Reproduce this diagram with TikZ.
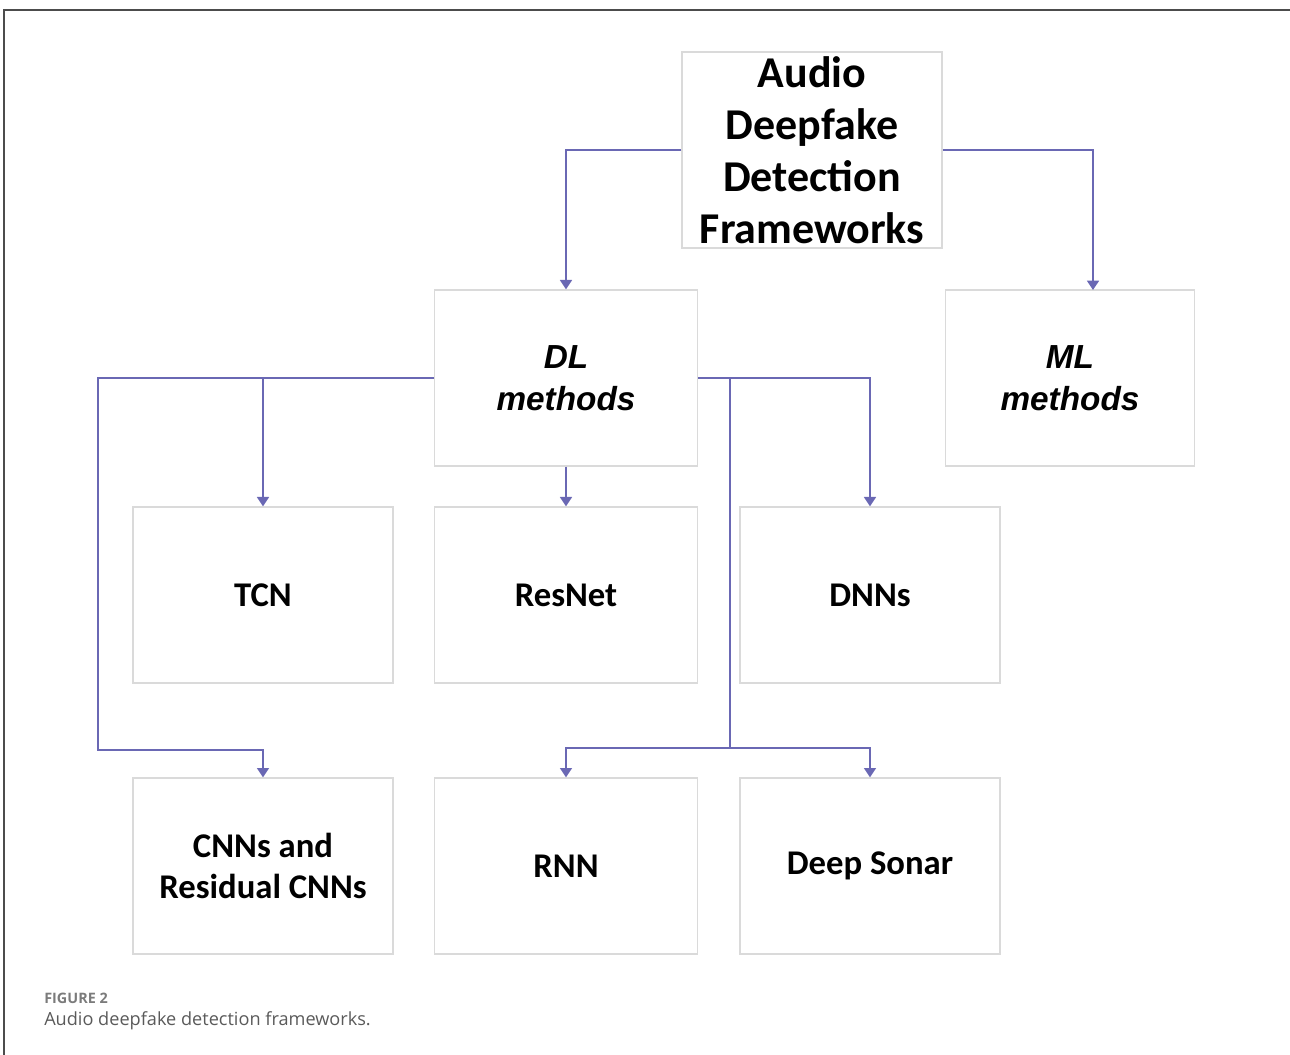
\documentclass[tikz,border=0pt]{standalone}
\usepackage{fontspec}
\setmainfont{Carlito}
\newfontfamily\arialfont{Liberation Sans}
\newfontfamily\capfont{Open Sans}
\usetikzlibrary{arrows.meta}

\definecolor{linkblue}{HTML}{6A68B4}
\definecolor{boxgray}{HTML}{DADADA}
\definecolor{capgray}{HTML}{5A5A5A}

\tikzset{
  fwbox/.style={draw=boxgray, line width=1pt, fill=white, minimum width=195pt, minimum height=132pt, inner sep=0pt},
  fwtext/.style={font=\bfseries\fontsize{26}{31}\selectfont, align=center},
  mtext/.style={font=\arialfont\bfseries\itshape\fontsize{25}{31.5}\selectfont, align=center},
  link/.style={draw=linkblue, line width=1.3pt},
  linkarr/.style={link, -{Triangle[width=9pt,length=7pt]}}
}

\begin{document}
\begin{tikzpicture}[x=0.75pt,y=-0.75pt]
\useasboundingbox (0,0) rectangle (1290,1055);
% frame
\draw[line width=1.2pt, black!70] (4,1055) -- (4,10) -- (1290,10);
% boxes
\node[fwbox, minimum width=195pt, minimum height=147pt, font=\bfseries\fontsize{33}{39}\selectfont, align=center] (top) at (812,150) {Audio\\Deepfake\\Detection\\Frameworks};
\node[fwbox, minimum width=197pt, mtext] (dl) at (566,378) {DL\\methods};
\node[fwbox, minimum width=187pt, mtext] (ml) at (1070,378) {ML\\methods};
\node[fwbox, fwtext] (tcn) at (263,595) {TCN};
\node[fwbox, minimum width=197pt, fwtext] (resnet) at (566,595) {ResNet};
\node[fwbox, fwtext] (dnns) at (870,595) {DNNs};
\node[fwbox, fwtext] (cnns) at (263,866) {CNNs and\\Residual CNNs};
\node[fwbox, minimum width=197pt, fwtext] (rnn) at (566,866) {RNN};
\node[fwbox, fwtext] (sonar) at (870,866) {Deep Sonar};
% bends
\coordinate (mlin) at (1093,290);
\coordinate (lbend) at (98,750);
\coordinate (rjoin) at (730,748);
% connectors
\draw[linkarr] (top.west) -| (dl.north);
\draw[linkarr] (top.east) -| (mlin);
\draw[linkarr] (dl.west) -| (lbend) -| (cnns.north);
\draw[linkarr] (tcn.north |- dl.west) -- (tcn.north);
\draw[linkarr] (dl.south) -- (resnet.north);
\draw[linkarr] (dl.east) -| (dnns.north);
\draw[link] (dl.east -| rjoin) -- (rjoin);
\draw[linkarr] (rjoin) -| (rnn.north);
\draw[linkarr] (rjoin) -| (sonar.north);
% caption
\node[anchor=west, font=\capfont\fontsize{10.8}{12}\selectfont\bfseries, text=capgray!80, inner sep=0pt] (fig) at (44,998) {FIGURE 2};
\node[anchor=west, font=\capfont\fontsize{13.6}{15}\selectfont, text=capgray, inner sep=0pt] (cap) at (44,1021) {Audio deepfake detection frameworks.};
\end{tikzpicture}
\end{document}
